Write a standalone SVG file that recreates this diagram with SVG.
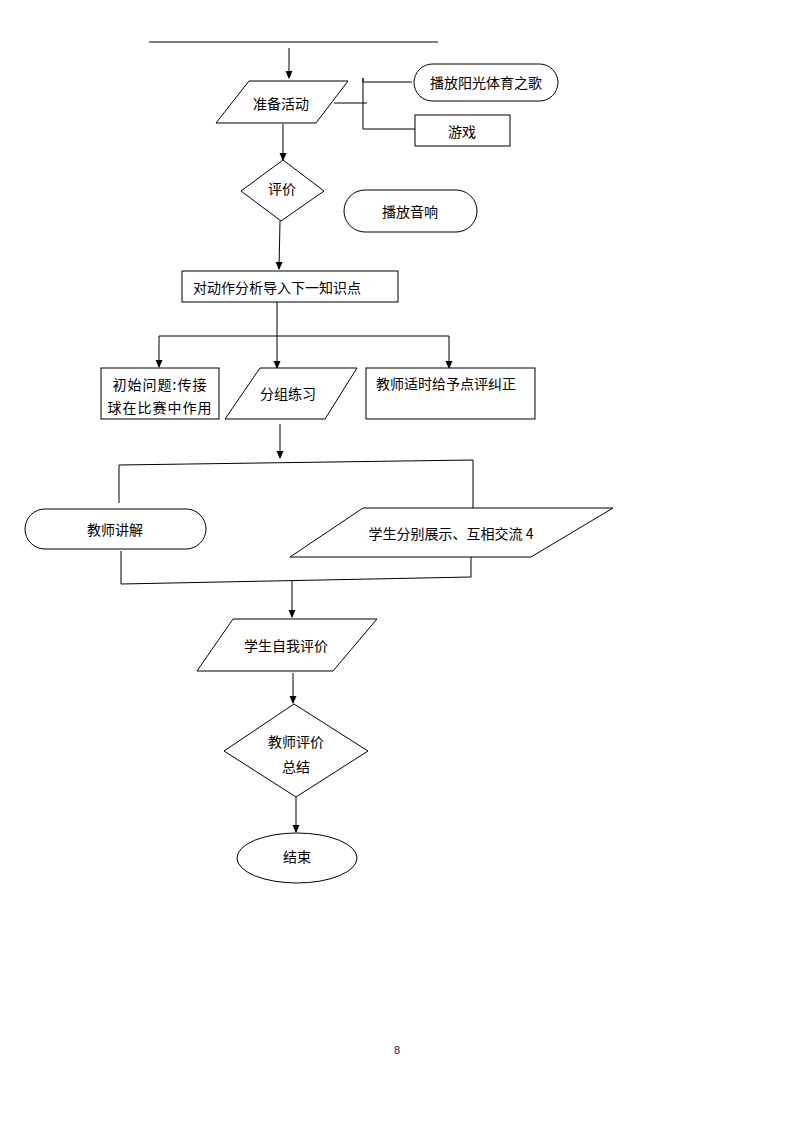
<svg xmlns="http://www.w3.org/2000/svg" width="794" height="1123" viewBox="0 0 794 1123">
<defs>
<marker id="ah" viewBox="0 0 8 8" refX="7" refY="4" markerWidth="8" markerHeight="8" markerUnits="userSpaceOnUse" orient="auto">
<path d="M0,0.5 L8,4 L0,7.5 z" fill="#000"/>
</marker>
<style>
.s{fill:#fff;stroke:#000;stroke-width:1}
.l{fill:none;stroke:#000;stroke-width:1}
.t{font-family:"Noto Sans CJK SC","Noto Sans",sans-serif;font-size:14px;fill:#000;text-anchor:middle;dominant-baseline:central}
</style>
</defs>
<rect width="794" height="1123" fill="#fff"/>
<g id="connectors">
<line class="l" x1="149" y1="42" x2="438" y2="42"/>
<line class="l" x1="289" y1="48" x2="289" y2="78" stroke-width="2" marker-end="url(#ah)"/>
<polyline class="l" points="334,103 367,103"/>
<polyline class="l" points="412,82 363,82 363,78 363,129 415,129"/>
<line class="l" x1="283" y1="124" x2="283" y2="160" marker-end="url(#ah)"/>
<line class="l" x1="280" y1="221" x2="279" y2="269" marker-end="url(#ah)"/>
<line class="l" x1="277" y1="302" x2="277" y2="336"/>
<line class="l" x1="159" y1="336" x2="449" y2="336"/>
<line class="l" x1="159" y1="336" x2="159" y2="367" stroke-width="2" marker-end="url(#ah)"/>
<line class="l" x1="277" y1="336" x2="277" y2="368" marker-end="url(#ah)"/>
<line class="l" x1="449" y1="336" x2="449" y2="368" marker-end="url(#ah)"/>
<line class="l" x1="280" y1="424" x2="280" y2="458" marker-end="url(#ah)"/>
<polyline class="l" points="119,503 119,465 473,460 473,508"/>
<polyline class="l" points="121,551 121,584 471,577 471,557"/>
<line class="l" x1="292" y1="581" x2="292" y2="617" marker-end="url(#ah)"/>
<line class="l" x1="293" y1="673" x2="293" y2="703" marker-end="url(#ah)"/>
<line class="l" x1="296" y1="797" x2="296" y2="832" marker-end="url(#ah)"/>
</g>
<g id="n_prep">
<polygon class="s" points="249,81 348,81 316,123 216,123"/>
<text class="t" x="281" y="103">准备活动</text>
</g>
<g id="n_song">
<rect class="s" x="414" y="64" width="144" height="37" rx="18.5"/>
<text class="t" x="486" y="82">播放阳光体育之歌</text>
</g>
<g id="n_game">
<rect class="s" x="415" y="115" width="95" height="31"/>
<text class="t" x="462" y="131">游戏</text>
</g>
<g id="n_eval">
<polygon class="s" points="283,160 324,191 281,221 241,191"/>
<text class="t" x="282" y="188">评价</text>
</g>
<g id="n_sound">
<rect class="s" x="344" y="190" width="133" height="42" rx="21"/>
<text class="t" x="410" y="211">播放音响</text>
</g>
<g id="n_analyze">
<rect class="s" x="182" y="271" width="216" height="31"/>
<text class="t" x="277" y="287">对动作分析导入下一知识点</text>
</g>
<g id="n_question">
<rect class="s" x="101" y="368" width="118" height="51"/>
<text class="t" x="160" y="384" letter-spacing="1">初始问题:传接</text>
<text class="t" x="160" y="407" letter-spacing="1">球在比赛中作用</text>
</g>
<g id="n_group">
<polygon class="s" points="260,368 357,368 325,419 225,419"/>
<text class="t" x="288" y="393">分组练习</text>
</g>
<g id="n_teacher">
<rect class="s" x="366" y="368" width="169" height="51"/>
<text class="t" x="446" y="383">教师适时给予点评纠正</text>
</g>
<g id="n_explain">
<rect class="s" x="25" y="509" width="181" height="40" rx="20"/>
<text class="t" x="115" y="529">教师讲解</text>
</g>
<g id="n_show">
<polygon class="s" points="363,508 613,508 531,557 290,557"/>
<text class="t" x="451" y="533">学生分别展示、互相交流 4</text>
</g>
<g id="n_self">
<polygon class="s" points="233,619 377,619 333,671 197,671"/>
<text class="t" x="286" y="645">学生自我评价</text>
</g>
<g id="n_summary">
<polygon class="s" points="294,704 368,751 296,797 224,751"/>
<text class="t" x="296" y="741">教师评价</text>
<text class="t" x="296" y="766">总结</text>
</g>
<g id="n_end">
<ellipse class="s" cx="297" cy="858" rx="60" ry="25"/>
<text class="t" x="297" y="856">结束</text>
</g>
<text x="397" y="1050" font-family="Liberation Sans, sans-serif" font-size="11" fill="#1a1a55" text-anchor="middle" dominant-baseline="central">8</text>
</svg>
